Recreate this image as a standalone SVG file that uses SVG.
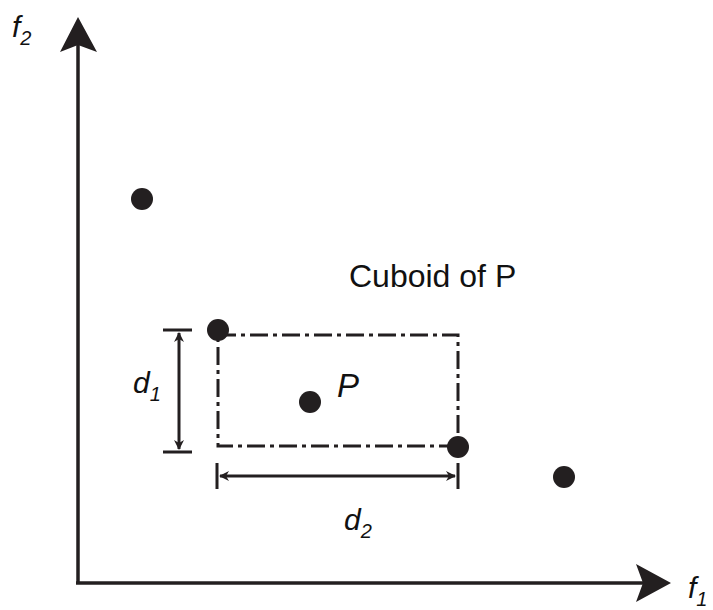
<svg xmlns="http://www.w3.org/2000/svg" width="713" height="610" viewBox="0 0 713 610">
<style>
.ax{stroke:#231f20;stroke-width:3.5;fill:none}
.dim{stroke:#231f20;stroke-width:3;fill:none}
.box{stroke:#231f20;stroke-width:3;fill:none;stroke-dasharray:18,5,4,5}
.dot{fill:#231f20}
.t{font-family:"Liberation Sans",Arial,sans-serif;fill:#111}
.i{font-style:italic}
</style>
<defs>
<marker id="ah" viewBox="0 0 10 10" refX="9" refY="5" markerWidth="10" markerHeight="10" markerUnits="userSpaceOnUse" orient="auto-start-reverse">
<path d="M0,0 L10,5 L0,10 L3,5 Z" fill="#231f20"/>
</marker>
</defs>
<g id="connectors">
<g id="axes">
<path class="ax" d="M78,583 V45"/>
<polygon points="78,17 97,52 78,45 60,52" fill="#231f20"/>
<path class="ax" d="M76,583 H645"/>
<polygon points="671,583 636,564 643,583 636,602" fill="#231f20"/>
</g>
<g id="d1-dim">
<path class="dim" d="M163,330 H192 M163,452 H192"/>
<path class="dim" d="M179,333 V449" marker-start="url(#ah)" marker-end="url(#ah)"/>
</g>
<g id="d2-dim">
<path class="dim" d="M217,463 V489 M458,463 V489"/>
<path class="dim" d="M220,476 H455" marker-start="url(#ah)" marker-end="url(#ah)"/>
</g>
</g>
<g id="cuboid"><rect class="box" x="218" y="335" width="240" height="111"/></g>
<g id="points">
<circle id="pt1" class="dot" cx="142" cy="199" r="11"/>
<circle id="pt2" class="dot" cx="218" cy="330" r="11"/>
<circle id="ptP" class="dot" cx="310" cy="402" r="11"/>
<circle id="pt3" class="dot" cx="458" cy="447" r="11"/>
<circle id="pt4" class="dot" cx="564" cy="477" r="11"/>
</g>
<g id="labels">
<text class="t i" x="12" y="37" font-size="30">f<tspan font-size="20" dy="8">2</tspan></text>
<text class="t i" x="688" y="598" font-size="30">f<tspan font-size="20" dy="8">1</tspan></text>
<text class="t" x="349" y="287" font-size="32">Cuboid of P</text>
<text class="t i" x="337" y="397" font-size="33">P</text>
<text class="t i" x="133" y="393" font-size="30">d<tspan font-size="20" dy="8">1</tspan></text>
<text class="t i" x="344" y="530" font-size="30">d<tspan font-size="20" dy="8">2</tspan></text>
</g>
</svg>
